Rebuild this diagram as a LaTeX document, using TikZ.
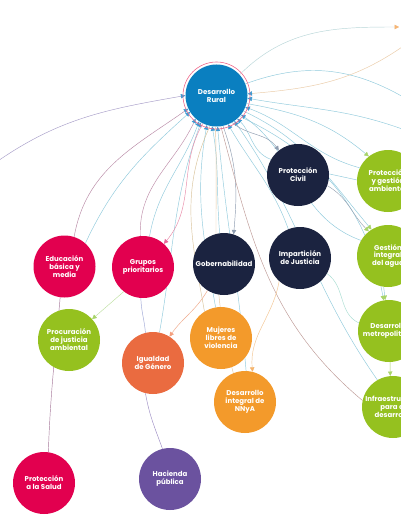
\documentclass[tikz,border=0pt]{standalone}
\usepackage{fontspec}
\setmainfont{Poppins}
\usepackage{tikz}
\usetikzlibrary{arrows.meta, backgrounds}
\definecolor{rural}{HTML}{0A7FC0}
\definecolor{marino}{HTML}{1B2340}
\definecolor{verde}{HTML}{95C11F}
\definecolor{carmin}{HTML}{E2004F}
\definecolor{coral}{HTML}{EA6B40}
\definecolor{naranja}{HTML}{F39A2B}
\definecolor{morado}{HTML}{6B529F}
\definecolor{anillo}{HTML}{F06A8C}
\definecolor{celeste}{HTML}{8FCADC}
\definecolor{azulflecha}{HTML}{3E9BD2}
\definecolor{gris}{HTML}{8E9CB0}
\definecolor{grisverde}{HTML}{9AA5B5}
\definecolor{verdeclaro}{HTML}{A8D46A}
\definecolor{verdelinea}{HTML}{BEE0A0}
\definecolor{aguamarina}{HTML}{A9DDD2}
\definecolor{lila}{HTML}{A69CC8}
\definecolor{malva}{HTML}{B98AA6}
\definecolor{malvaclaro}{HTML}{BE8CA8}
\definecolor{rosa}{HTML}{E98AA8}
\definecolor{rosaflecha}{HTML}{E9669A}
\definecolor{ladrillo}{HTML}{BE9A96}
\definecolor{arena}{HTML}{D9C39A}
\definecolor{arenaclara}{HTML}{E8C8A0}
\definecolor{durazno}{HTML}{EBCBA6}
\definecolor{azulverde}{HTML}{B8D6D8}
\definecolor{mandarina}{HTML}{F5B575}
\definecolor{salmon}{HTML}{F0A98A}
\definecolor{salmonflecha}{HTML}{F4A07F}
\definecolor{melon}{HTML}{F3C48F}
\definecolor{melonflecha}{HTML}{F5B46C}
\definecolor{ciruela}{HTML}{A7799A}
\definecolor{lavanda}{HTML}{9EA6D6}
\definecolor{violeta}{HTML}{9C8CC4}
\tikzset{
  tema/.style={circle, minimum size=62pt, inner sep=-4pt, align=center,
               text=white, font=\fontsize{7}{7.9}\selectfont\bfseries},
  enlace/.style={line width=0.45pt},
  punta/.style={-{Triangle[width=4.4pt,length=4.4pt,color=#1]}}
}

\begin{document}
\begin{tikzpicture}[x=1pt, y=1pt]
    \useasboundingbox (0,0) rectangle (400,-516);
    % temas
    \node[tema, fill=rural] (dr) at (216.5,-95.5) {Desarrollo\\Rural};
    \node[tema, fill=marino] (pciv) at (298,-175) {Protección\\Civil};
    \node[tema, fill=verde] (pamb) at (388,-181) {Protección\\y gestión\\ambiental};
    \node[tema, fill=verde] (agua) at (388,-256) {Gestión\\integral\\del agua};
    \node[tema, fill=verde] (metro) at (389,-331) {Desarrollo\\metropolitano};
    \node[tema, fill=verde] (infra) at (393,-407) {Infraestructura\\para el\\desarrollo};
    \node[tema, fill=carmin] (edu) at (64.5,-266.5) {Educación\\básica y\\media};
    \node[tema, fill=carmin] (grupos) at (143,-267) {Grupos\\prioritarios};
    \node[tema, fill=marino] (gob) at (224,-264) {Gobernabilidad};
    \node[tema, fill=marino] (impart) at (300,-258) {Impartición\\de Justicia};
    \node[tema, fill=verde] (procur) at (69,-340) {Procuración\\de justicia\\ambiental};
    \node[tema, fill=coral] (igual) at (153,-363) {Igualdad\\de Género};
    \node[tema, fill=naranja] (mujeres) at (221,-338) {Mujeres\\libres de\\violencia};
    \node[tema, fill=naranja] (nnya) at (245,-402) {Desarrollo\\integral de\\NNyA};
    \node[tema, fill=carmin] (salud) at (44,-483) {Protección\\a la Salud};
    \node[tema, fill=morado] (hacienda) at (170,-479) {Hacienda\\pública};
    \draw[anillo, line width=0.6pt] (dr.center) circle (33.5pt);

    % extremos fuera del cuadro
    \coordinate (izq) at (-5,-163);
    \coordinate (arriba) at (399,-27);
    \coordinate (der1) at (405,-45);
    \coordinate (der2) at (405,-98);
    \coordinate (der3) at (405,-130);

    \begin{scope}[on background layer]
        \fill[white] (0,0) rectangle (400,-516);
        % hacia Desarrollo Rural
        \draw[enlace, lila, punta=azulflecha] (izq) to[out=35, in=190] (dr.180);
        \draw[enlace, malva, punta=azulflecha] (edu.72) to[out=80, in=215] (dr.205);
        \draw[enlace, celeste, punta=azulflecha] (edu.48) to[out=65, in=222] (dr.212);
        \draw[enlace, malvaclaro, punta=azulflecha] (grupos.95) to[out=92, in=245] (dr.228);
        \draw[enlace, celeste, punta=azulflecha] (grupos.78) to[out=80, in=250] (dr.236);
        \draw[enlace, celeste, punta=azulflecha] (igual.78) to[out=80, in=-110] (dr.240);
        \draw[enlace, celeste, punta=azulflecha] (mujeres.100) to[out=100, in=-100] (dr.252);
        \draw[enlace, celeste, punta=azulflecha] (gob.98) to[out=95, in=-80] (dr.262);
        \draw[enlace, celeste, punta=azulflecha] (nnya.88) to[out=95, in=-85] (dr.272);
        \draw[enlace, celeste, punta=azulflecha] (impart.112) to[out=110, in=-60] (dr.292);
        \draw[enlace, celeste, punta=azulflecha] (infra.120) to[out=125, in=-55] (dr.305);
        \draw[enlace, celeste, punta=azulflecha] (pciv.150) to[out=160, in=-45] (dr.312);
        \draw[enlace, celeste, punta=azulflecha] (agua.150) to[out=160, in=-35] (dr.322);
        \draw[enlace, celeste, punta=azulflecha] (pamb.155) to[out=165, in=-20] (dr.338);
        \draw[enlace, durazno, punta=azulflecha] (der1) to[out=215, in=5] (dr.3);
        \draw[enlace, celeste, punta=azulflecha] (der3) to[out=160, in=-10] (dr.-5);
        % desde Desarrollo Rural
        \draw[enlace, rosa, punta=rosaflecha] (dr.244) to[out=240, in=50] (grupos.48);
        \draw[enlace, gris, punta=gris] (dr.300) to[out=-40, in=125] (pciv.128);
        \draw[enlace, gris, punta=gris] (dr.282) to[out=-70, in=85] (gob.72);
        \draw[enlace, celeste, punta=verdeclaro] (dr.345) to[out=-10, in=140] (pamb.128);
        \draw[enlace, celeste, punta=verdeclaro] (dr.330) to[out=-25, in=130] (agua.122);
        \draw[enlace, celeste, punta=verdeclaro] (dr.318) to[out=-25, in=100] (metro.100);
        \draw[enlace, ladrillo] (dr.278) to[out=-75, in=140] (infra.168);
        \draw[enlace, arena] (dr.258) to[out=-115, in=100] (mujeres.122);
        \draw[enlace, arenaclara] (dr.268) to[out=-88, in=105] (nnya.112);
        \draw[enlace, azulverde, punta=mandarina] (dr.42) to[out=45, in=180] (arriba);
        \draw[enlace, celeste] (dr.22) to[out=20, in=150] (der2);
        % entre temas
        \draw[enlace, grisverde, punta=verdeclaro] (pciv.340) to[out=-30, in=135] (agua.128);
        \draw[enlace, celeste] (pciv.2) -- (pamb.178);
        \draw[enlace, aguamarina] (impart.330) to[out=-35, in=155] (metro.165);
        \draw[enlace, celeste, punta=verdeclaro] (agua.262) -- (metro.97);
        \draw[enlace, verdeclaro, punta=verdeclaro] (metro.272) -- (infra.95);
        \draw[enlace, salmon, punta=salmonflecha] (gob.238) to[out=240, in=55] (igual.58);
        \draw[enlace, melon, punta=melonflecha] (impart.228) to[out=-100, in=95] (nnya.76);
        \draw[enlace, verdelinea, punta=verdeclaro] (grupos.232) -- (procur.42);
        \draw[enlace, ciruela] (edu.262) to[out=-95, in=88] (salud.82);
        \draw[enlace, lavanda] (grupos.266) to[out=-88, in=95] (igual.104);
        \draw[enlace, violeta] (igual.256) to[out=-80, in=110] (hacienda.104);
    \end{scope}
\end{tikzpicture}
\end{document}
